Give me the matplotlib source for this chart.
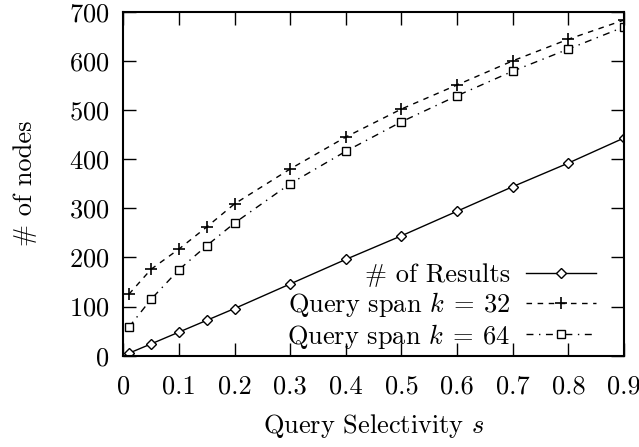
import matplotlib
matplotlib.use("Agg")
import matplotlib.pyplot as plt

plt.rcParams['font.family'] = 'serif'
plt.rcParams['font.serif'] = ['cmr10', 'DejaVu Serif']
plt.rcParams['mathtext.fontset'] = 'cm'
plt.rcParams['axes.formatter.use_mathtext'] = True
plt.rcParams['font.size'] = 19

selectivity = [0.01, 0.05, 0.1, 0.15, 0.2, 0.3, 0.4, 0.5, 0.6, 0.7, 0.8, 0.9]
results = [5, 24, 48, 72, 96, 146, 196, 244, 294, 344, 392, 443]
span32 = [125, 176, 217, 262, 309, 380, 445, 502, 551, 600, 644, 683]
span64 = [58, 115, 175, 224, 270, 350, 416, 476, 529, 579, 624, 669]

xticks = [0, 0.1, 0.2, 0.3, 0.4, 0.5, 0.6, 0.7, 0.8, 0.9]
xticklabels = ['0', '0.1', '0.2', '0.3', '0.4', '0.5', '0.6', '0.7', '0.8', '0.9']
yticks = [0, 100, 200, 300, 400, 500, 600, 700]

fig = plt.figure(figsize=(6.39, 4.47), dpi=100)
ax = fig.add_axes([123.3/639, 1 - 355.7/447, (624 - 123.3)/639, (355.7 - 11.7)/447])

ax.plot(selectivity, results, '-', color='black', lw=1.0, marker='D', ms=5,
        mfc='white', mec='black', mew=1.0, label='# of Results')
ax.plot(selectivity, span32, color='black', lw=1.0, linestyle=(0, (4, 4)), marker='+', ms=8,
        mew=1.2, label=r'Query span $k\:=\:32$')
ax.plot(selectivity, span64, color='black', lw=1.0, linestyle=(0, (5, 4, 1, 4)), marker='s', ms=6,
        mfc='white', mec='black', mew=1.0, label=r'Query span $k\:=\:64$')

ax.set_xlim(0, 0.9)
ax.set_ylim(0, 700)
ax.set_xticks(xticks)
ax.set_xticklabels(xticklabels)
ax.set_yticks(yticks)
ax.tick_params(direction='in', length=9.5, width=1.0, top=True, right=True)
ax.tick_params(axis='x', pad=14)
ax.tick_params(axis='y', pad=10)
for s in ax.spines.values():
    s.set_linewidth(1.5)

ax.set_xlabel(r'Query Selectivity $s$', va='center')
ax.set_ylabel('# of nodes', va='center')
ax.xaxis.set_label_coords(0.5, -0.204)
ax.yaxis.set_label_coords(-0.196, 0.5)

ax.legend(loc='lower right', frameon=False, markerfirst=False, handlelength=2.65,
          handletextpad=0.6, borderaxespad=0.0, labelspacing=0.1,
          bbox_to_anchor=(0.965, -0.016))

fig.savefig('out.png', dpi=100)
